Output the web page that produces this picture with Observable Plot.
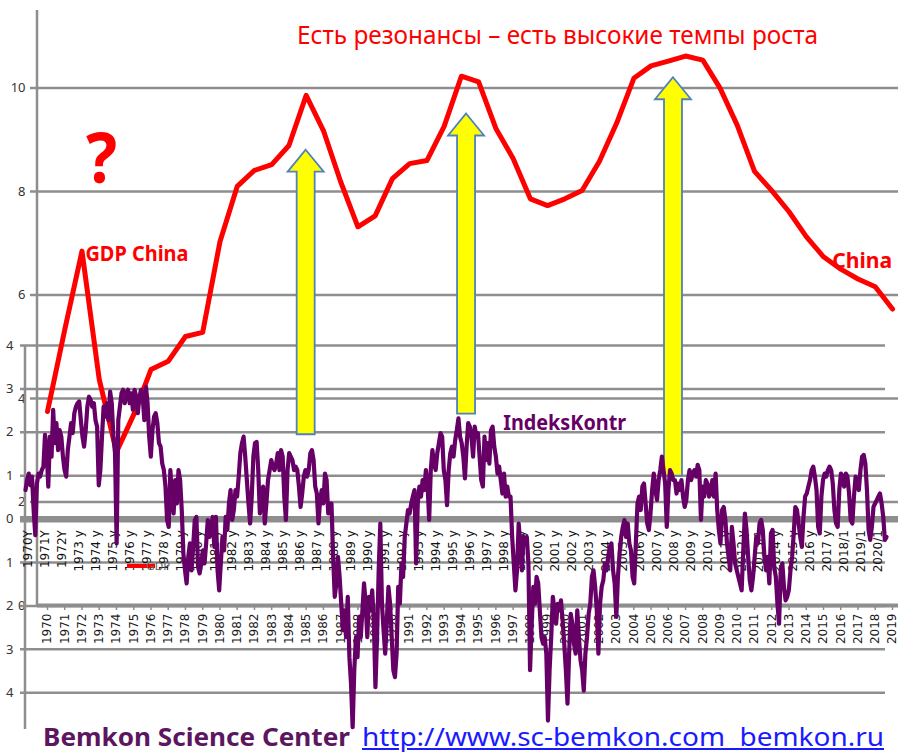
<!DOCTYPE html>
<html>
<head>
<meta charset="utf-8">
<script src="https://cdn.jsdelivr.net/npm/d3@7"></script>
<script src="https://cdn.jsdelivr.net/npm/@observablehq/plot@0.6"></script>
<style>
  html, body { margin: 0; padding: 0; background: #fff; }
  #wrap { position: relative; width: 898px; height: 755px; overflow: hidden; background: #fff; }
  #wrap > svg { position: absolute; left: 0; top: 0; }
  .note { position: absolute; white-space: pre; transform-origin: 0 0; }
</style>
</head>
<body>
<div id="wrap"></div>
<script>
// ---------------- GDP China (annual growth, %) ----------------
const gdpYears = d3.range(1970, 2020);
const gdpGrowth = [
  3.75, 5.33, 6.85, 4.37, 2.97, 3.69, 4.56, 4.72, 5.2, 5.28,
  7.03, 8.1, 8.41, 8.52, 8.89, 9.86, 9.18, 8.19, 7.32, 7.53,
  8.25, 8.54, 8.6, 9.26, 10.23, 10.12, 9.22, 8.64, 7.86, 7.73,
  7.86, 8.02, 8.58, 9.32, 10.19, 10.43, 10.52, 10.62, 10.54, 10.0,
  9.28, 8.39, 8.02, 7.61, 7.13, 6.74, 6.5, 6.31, 6.16, 5.73
];
const gdpTicks = [0, 2, 4, 6, 8, 10];

// resonance arrows (GDP coordinates)
const arrowYears = [1985, 1994.3, 2006.3];
const arrowTips = [8.8, 9.5, 10.2];
const arrowBases = [3.3, 3.7, 2.5];

// GDP chart annotations
const gdpNoteText = ["GDP China", "China"];
const gdpNoteYear = [1972.2, 2015.5];
const gdpNoteValue = [6.8, 6.65];

// ---------------- IndeksKontr (monthly index) ----------------
const kontrStart = 1970.0;
const kontrEnd = 2020.65;
const kontr1970s = [0.67, 0.9, 1.05, 0.78, 0.98, 0.21, -0.37, 0.82, 1.05, 0.98, 1.13, 1.21, 1.94, 1.59, 0.75, 1.9, 1.44, 2.52, 1.75, 2.21, 1.59, 2.05, 1.9, 1.44, 1.13, 0.98, 1.59, 1.9, 2.21, 1.98, 2.44, 2.59, 2.67, 2.71, 2.28, 1.9, 1.67, 2.05, 2.59, 2.82, 2.75, 2.59, 2.67, 2.28, 2.13, 0.78, 1.13, 1.9, 2.59, 2.36, 2.67, 2.28, 2.94, 2.67, 1.9, 1.52, -0.56, 2.28, 2.59, 2.9, 2.98, 2.67, 2.9, 2.98, 2.67, 2.9, 2.52, 2.98, 2.82, 2.44, 2.82, 2.98, 2.82, 2.28];
const kontr1977 = [3.05, 2.67, 1.9, 1.44, 2.05, 2.36, 2.44, 2.21, 1.75, 1.67, 1.28, 1.13, 0.75, -0.02, -0.18, 1.13, 0.52, 0.13, 0.9, 0.36, 1.13, 0.9, 0.21, -0.79, -1.18, -1.48, -0.87, -0.56, -1.18, -0.64, -0.02, 0.05, -1.1, -1.25, -1.02, -0.72, -1.02, -0.56, -0.02, -0.41, -0.25, 0.05, -0.64, 0.05, -1.18, -1.64, -1.02, -0.41, -0.72, 0.05, -0.25, 0.36, 0.67, -0.02, 0.21, 0.67, 0.52, 0.98, 1.52, 1.75, 1.9, 1.44, 0.9, 0.36, -0.1, 0.52, 1.44, 1.75, 1.78, 1.13, 0.13, 0.52, 0.75, -0.1, 0.36, 0.9, 1.13, 1.36, 1.21, 1.13];
const kontr1985 = [1.28, 1.52, 1.13, 1.59, 1.44, 0.52, -0.02, 1.13, 1.52, 1.44, 1.36, 1.13, 1.21, 1.13, 0.75, 0.28, 0.59, 0.98, 1.13, 0.98, 1.13, 1.52, 1.59, 1.36, 0.75, 0.59, -0.1, 0.44, 0.67, 0.36, 1.05, 0.9, 0.13, 0.21, 0.36, -0.87, -1.79, -1.48, -0.87, -1.33, -1.95, -2.56, -2.1, -2.72, -1.79, -3.18, -3.79, -4.79, -3.48, -2.72, -3.18, -2.25, -2.72, -2.1, -1.48, -1.95, -2.72, -1.79, -2.1, -1.64, -2.33, -3.87, -2.72, -1.18, -0.1, -1.95, -2.56, -3.1, -2.33, -1.56, -1.95, -2.72, -3.48, -3.64, -3.1, -1.56, -1.95, -1.02, -1.33, -0.41, -0.1, 0.21, 0.13, 0.36, 0.52];
const kontr1992 = [0.67, -1.02, 0.36, 0.75, 0.52, 0.9, 0.67, 1.13, 0.82, -0.02, 1.13, 1.59, 1.28, 1.13, 1.52, 1.75, 1.98, 1.9, 1.13, 0.9, 0.32, 1.13, 1.52, 1.67, 1.44, 1.82, 2.05, 2.32, 1.9, 1.75, 1.44, 0.94, 1.67, 2.21, 2.13, 1.9, 1.44, 2.13, 1.9, 1.98, 1.44, 0.9, 0.75, 1.9, 1.36, 1.75, 1.28, 2.05, 2.13, 1.67, 1.44, 1.05, 1.21, 0.9, 0.59, 1.05, 0.52, 0.75, 0.52, 0.52, -0.41, -1.02, -1.64, -1.18, -0.1, -0.56, -1.18, -0.41, -0.56, -0.41, -1.02, -3.48, -2.41, -1.56, -1.95, -1.33, -1.48, -2.1, -2.72, -2.87];
const kontr2000 = [-2.72, -3.1, -4.64, -3.48, -2.72, -1.79, -2.1, -2.41, -1.95, -2.1, -1.87, -2.33, -2.87, -3.48, -4.25, -3.1, -2.18, -2.41, -2.87, -3.1, -2.1, -2.72, -3.25, -3.48, -3.95, -3.1, -2.72, -2.18, -1.95, -1.33, -1.18, -1.56, -2.1, -3.1, -1.95, -1.56, -1.41, -1.02, -1.18, -0.87, -0.64, -0.56, -1.18, -1.48, -2.25, -1.33, -0.79, -0.41, -0.18, -0.02, -0.41, -0.1, -0.56, -0.72, -1.33, -1.48, -0.56, 0.36, 0.52, 0.21, 0.75, 0.82, 0.36, -0.1, -0.25, 0.13, 0.67, 1.05, 0.67, 0.44, 0.9, 1.13, 1.44, 1.13, 0.82, -0.18, 0.67, 1.13, 1.05, 0.9];
const kontr2008 = [0.9, 0.59, 0.82, 0.67, 0.9, 0.52, 0.28, 0.44, 0.9, 1.13, 0.9, 1.05, 1.13, 0.98, 1.25, 1.13, -0.02, 0.75, 0.52, 0.9, 0.82, 0.52, 0.59, 0.9, 0.52, 1.05, 0.21, -0.25, -0.56, 0.21, 0.28, -0.02, -0.56, -0.87, -1.18, -0.18, -0.56, -1.02, -1.18, -1.33, -1.48, -1.64, -0.72, 0.13, -0.25, -0.87, -1.41, -1.64, -1.33, -0.87, -0.41, -0.56, -0.1, -0.02, -0.25, -0.87, -1.18, -0.87, -1.48, -0.33, -0.25, -1.1, -1.33, -1.95, -2.41, -1.18, -1.02, -1.56, -1.87, -1.79, -1.64, -1.18, -0.87, -0.33, 0.28, 0.21, -0.1, -0.41, -0.64];
const kontr2015 = [0.05, 0.52, 0.59, 0.75, 0.9, 1.13, 1.21, 0.98, 0.67, -0.18, -0.33, 0.52, 0.9, 1.05, 0.98, 1.13, 1.21, 1.13, 0.82, 0.21, -0.1, -0.18, 0.67, 1.05, 0.98, 0.75, 1.05, 0.98, 0.59, -0.02, -0.1, 0.52, 0.98, 0.82, 0.67, 1.13, 1.44, 1.48, 1.28, 0.67, -0.25, -0.48, -0.18, 0.28, 0.36, 0.44, 0.52, 0.59, 0.36, 0.05, -0.48, -0.41];
const kontrTicks = [4, 3, 2, 1, 0, -1, -2, -3, -4];
const kontrLabelYears = d3.range(1970, 2021);
const kontrLabels = kontrLabelYears.map(y =>
  y <= 1972 ? y + "Y" : (y === 2013 || y >= 2018) ? y + "/1" : y + " y");

// ---------------- tables ----------------
const gdpTable = gdpYears.map((year, i) => ({year, value: gdpGrowth[i]}));
const kontrValues = [].concat(kontr1970s, kontr1977, kontr1985, kontr1992, kontr2000, kontr2008, kontr2015);
const kontrTable = kontrValues.map((v, i) => ({
  t: kontrStart + i * (kontrEnd - kontrStart) / (kontrValues.length - 1), v
}));

// ---------------- styles ----------------
const GRID = "#8e8e8e";
const RED = "#ff0000";
const PURPLE = "#660066";

const gdpFrame = (marks) => Plot.plot({
  width: 898, height: 680,
  marginTop: 10, marginRight: 6, marginBottom: 75, marginLeft: 37,
  style: {background: "transparent", overflow: "visible"},
  x: {type: "linear", domain: [1970, 2019], range: [47, 892], axis: null},
  y: {domain: [0, 11.5], range: [605, 10], axis: null},
  marks
});
const kontrFrame = (marks) => Plot.plot({
  width: 898, height: 740,
  marginTop: 345, marginRight: 13, marginBottom: 13, marginLeft: 25,
  style: {background: "transparent", overflow: "visible"},
  x: {type: "linear", domain: [kontrStart, kontrEnd], range: [25, 886], axis: null},
  y: {domain: [-4.8, 4], range: [727, 345], axis: null},
  marks
});

const leftLine = (width) => (index, scales, values, dims) =>
  d3.create("svg:line")
    .attr("x1", dims.marginLeft).attr("x2", dims.marginLeft)
    .attr("y1", dims.marginTop).attr("y2", dims.height - dims.marginBottom + 2)
    .attr("stroke", GRID).attr("stroke-width", width).node();

const arrowsMark = (index, scales) => {
  const g = d3.create("svg:g");
  arrowYears.forEach((yr, i) => {
    const x = scales.x(yr), yt = scales.y(arrowTips[i]), yb = scales.y(arrowBases[i]);
    const sw = 9, hw = 18, hh = 22;
    const pts = [[x, yt], [x + hw, yt + hh], [x + sw, yt + hh], [x + sw, yb],
                 [x - sw, yb], [x - sw, yt + hh], [x - hw, yt + hh]];
    g.append("polygon").attr("points", pts.map(p => p.join(",")).join(" "))
      .attr("fill", "#ffff00").attr("stroke", "#4f81bd").attr("stroke-width", 1.8)
      .attr("stroke-linejoin", "miter");
  });
  return g.node();
};

const legendStub = () => {
  const g = d3.create("svg:g");
  g.append("line").attr("x1", 127).attr("x2", 155).attr("y1", 566).attr("y2", 566)
    .attr("stroke", RED).attr("stroke-width", 4);
  g.append("text").attr("x", 158).attr("y", 570).attr("font-size", 11)
    .attr("font-family", "DejaVu Sans").attr("fill", "#666").text("GDP");
  return g.node();
};

// ---------------- layers ----------------
const wrap = document.getElementById("wrap");

const gdpBase = gdpFrame([
  Plot.ruleY(gdpTicks.filter(d => d > 0), {stroke: GRID, strokeWidth: 2.5, insetLeft: -7, insetRight: -6}),
  Plot.ruleY([0], {stroke: GRID, strokeWidth: 4, insetRight: -6}),
  leftLine(2.5),
  Plot.axisY(gdpTicks, {tickSize: 0, tickPadding: 12, fontSize: 13, fontFamily: "Noto Sans", fill: "#333", tickFormat: d => String(d)}),
  Plot.axisX(gdpYears, {tickRotate: -90, tickSize: 5, tickPadding: 3, fontSize: 12, fontFamily: "DejaVu Sans", fill: "#1a1a1a", stroke: GRID, strokeWidth: 1.5, tickFormat: d => String(d)})
]);

const kontrBase = kontrFrame([
  Plot.ruleY(kontrTicks.filter(d => d !== 0), {stroke: GRID, strokeWidth: 2.5, insetLeft: -5}),
  Plot.ruleY([0], {stroke: GRID, strokeWidth: 6.5, insetLeft: -5, insetRight: -13}),
  leftLine(2.5),
  // the reference's left edge crops the minus signs, so only the magnitude shows
  Plot.axisY(kontrTicks, {tickSize: 0, tickPadding: 12, fontSize: 13, fontFamily: "Noto Sans", fill: "#333",
    tickFormat: d => String(Math.abs(d))}),
  Plot.text(kontrLabelYears, {x: d => d, y: () => 0, text: (d, i) => kontrLabels[i], rotate: -90,
    textAnchor: "end", dx: 3, dy: 11, fontSize: 12, fontFamily: "DejaVu Sans", fill: "#111"})
]);

const gdpTop = gdpFrame([
  Plot.line(gdpTable, {x: "year", y: "value", stroke: RED, strokeWidth: 5, strokeLinejoin: "round", strokeLinecap: "round"}),
  arrowsMark,
  legendStub,
  Plot.text(gdpNoteText, {x: (d, i) => gdpNoteYear[i], y: (d, i) => gdpNoteValue[i], text: d => d,
    textAnchor: "start", fontSize: 22, fontWeight: "bold", fontFamily: "Noto Sans", fill: RED})
]);

const kontrTop = kontrFrame([
  Plot.line(kontrTable, {x: "t", y: "v", stroke: PURPLE, strokeWidth: 4.2, strokeLinejoin: "round"}),
  Plot.text(["IndeksKontr"], {x: () => 1998.1, y: () => 2.21, text: d => d, textAnchor: "start",
    fontSize: 22, fontWeight: "bold", fontFamily: "Noto Sans", fill: PURPLE})
]);

[gdpBase, kontrBase, gdpTop, kontrTop].forEach(s => wrap.appendChild(s));

function fitSvgText(svg, texts, widths) {
  svg.querySelectorAll("text").forEach(t => {
    const k = texts.indexOf(t.textContent);
    if (k >= 0) {
      t.setAttribute("textLength", widths[k]);
      t.setAttribute("lengthAdjust", "spacingAndGlyphs");
    }
  });
}
fitSvgText(gdpTop, gdpNoteText, [103, 60]);
fitSvgText(kontrTop, ["IndeksKontr"], [123]);

// HTML notes: title, question mark, footer
function addNote(text, o) {
  const d = document.createElement("div");
  d.className = "note";
  d.textContent = text;
  d.style.font = o.font;
  d.style.lineHeight = "1";
  d.style.color = o.color;
  d.style.left = o.left + "px";
  d.style.top = (o.baseline - 0.888 * o.size) + "px";
  if (o.underline) d.style.textDecoration = "underline";
  wrap.appendChild(d);
  const w = d.getBoundingClientRect().width;
  d.style.transform = `scaleX(${o.width / w})`;
}
addNote("Есть резонансы – есть высокие темпы роста",
  {font: '25px "Noto Sans"', size: 25, color: RED, left: 297, baseline: 44, width: 521});
addNote("?", {font: 'bold 70px "Noto Sans"', size: 70, color: RED, left: 86, baseline: 183, width: 31});
addNote("Bemkon Science Center",
  {font: 'bold 25px "Noto Sans"', size: 25, color: "#5c1660", left: 43, baseline: 746, width: 307});
addNote("http://www.sc-bemkon.com  bemkon.ru",
  {font: '26px "Noto Sans"', size: 26, color: "#1a1aff", left: 362, baseline: 746, width: 522, underline: true});
</script>
</body>
</html>
